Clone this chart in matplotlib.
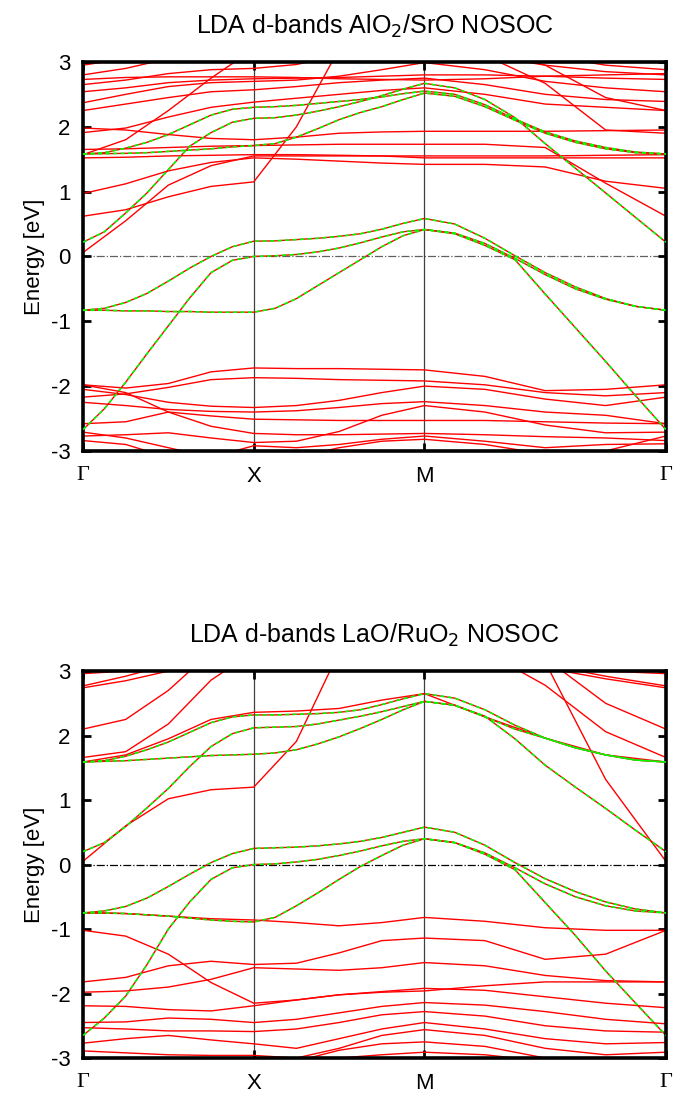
import numpy as np
import matplotlib
matplotlib.use('Agg')
import matplotlib.pyplot as plt

plt.rcParams['font.family'] = ['Liberation Sans', 'DejaVu Sans']

# k path: Gamma-X, X-M, M-Gamma (lengths 1, 1, sqrt2)
# red bands are read at 4 steps per segment, green (d-band) ones at 8 steps
kpath = [0.0, 0.25, 0.5, 0.75, 1.0, 1.25, 1.5, 1.75, 2.0, 2.354, 2.707, 3.061, 3.414]
kfine = [0.0, 0.125, 0.25, 0.375, 0.5, 0.625, 0.75, 0.875,
         1.0, 1.125, 1.25, 1.375, 1.5, 1.625, 1.75, 1.875,
         2.0, 2.177, 2.354, 2.530, 2.707, 2.884, 3.061, 3.237, 3.414]
k_ticks = [0.0, 1.0, 2.0, 3.414]
k_labels = ['\u0393', 'X', 'M', '\u0393']
e_ticks = [-3, -2, -1, 0, 1, 2, 3]

top_title = 'LDA d-bands AlO$_2$/SrO NOSOC'
bot_title = 'LDA d-bands LaO/RuO$_2$ NOSOC'

# ---- top panel: d-band (green) fits
top_green = [
    [-0.83, -0.80, -0.71, -0.57, -0.38, -0.18, 0.00, 0.15, 0.235,
     0.24, 0.26, 0.28, 0.31, 0.35, 0.42, 0.51, 0.585,
     0.50, 0.28, 0.01, -0.25, -0.47, -0.65, -0.77, -0.83],
    [-2.67, -2.35, -1.94, -1.50, -1.07, -0.64, -0.25, -0.06, 0.00,
     0.01, 0.03, 0.07, 0.13, 0.21, 0.30, 0.38, 0.415,
     0.36, 0.20, -0.03, -0.28, -0.50, -0.66, -0.77, -0.83],
    [-0.83, -0.83, -0.84, -0.84, -0.85, -0.85, -0.86, -0.86, -0.86,
     -0.80, -0.65, -0.45, -0.25, -0.05, 0.15, 0.32, 0.415,
     0.35, 0.17, -0.05, -0.58, -1.10, -1.62, -2.15, -2.67],
    [0.22, 0.38, 0.67, 0.98, 1.34, 1.70, 1.91, 2.07, 2.13,
     2.14, 2.18, 2.24, 2.31, 2.39, 2.48, 2.58, 2.67,
     2.60, 2.42, 2.14, 1.74, 1.36, 0.98, 0.60, 0.22],
    [1.58, 1.60, 1.67, 1.76, 1.88, 2.03, 2.18, 2.27, 2.30,
     2.31, 2.33, 2.36, 2.39, 2.42, 2.46, 2.51, 2.55,
     2.50, 2.34, 2.12, 1.92, 1.78, 1.68, 1.61, 1.58],
    [1.58, 1.585, 1.59, 1.60, 1.62, 1.64, 1.66, 1.69, 1.71,
     1.74, 1.84, 1.97, 2.11, 2.22, 2.31, 2.42, 2.52,
     2.47, 2.31, 2.10, 1.90, 1.76, 1.66, 1.60, 1.58],
]
# ---- top panel: full LDA bands (red)
top_red = [
    [0.06, 0.55, 1.10, 1.40, 1.55, 1.55, 1.55, 1.55, 1.55, 1.55, 1.55, 1.56, 1.57],
    [0.97, 1.12, 1.32, 1.45, 1.52, 1.50, 1.47, 1.44, 1.42, 1.42, 1.38, 1.16, 1.05],
    [0.62, 0.72, 0.92, 1.08, 1.15, 2.00, 3.20, 3.60, 3.60, 3.60, 3.60, 3.60, 3.60],
    [1.65, 1.66, 1.68, 1.70, 1.71, 1.72, 1.73, 1.73, 1.73, 1.73, 1.68, 1.13, 0.62],
    [1.57, 1.80, 2.25, 2.75, 3.20, 3.40, 3.40, 3.40, 3.40, 3.40, 3.40, 3.40, 3.40],
    [1.98, 1.95, 1.88, 1.82, 1.80, 1.84, 1.90, 1.92, 1.93, 1.93, 1.93, 1.94, 1.95],
    [1.91, 1.98, 2.15, 2.30, 2.38, 2.44, 2.50, 2.56, 2.60, 2.50, 2.35, 2.30, 2.25],
    [2.25, 2.35, 2.45, 2.54, 2.57, 2.62, 2.68, 2.72, 2.75, 2.65, 2.50, 2.42, 2.39],
    [2.37, 2.50, 2.62, 2.68, 2.70, 2.72, 2.78, 2.88, 2.99, 2.88, 2.70, 2.60, 2.54],
    [2.54, 2.60, 2.68, 2.72, 2.74, 2.75, 2.76, 2.78, 2.80, 2.80, 2.78, 2.75, 2.73],
    [2.65, 2.72, 2.82, 2.88, 2.90, 2.96, 3.10, 3.20, 3.20, 3.10, 2.95, 2.85, 2.80],
    [2.73, 2.76, 2.77, 2.77, 2.77, 2.76, 2.74, 2.73, 2.72, 2.74, 2.78, 2.80, 2.82],
    [2.80, 2.90, 3.05, 3.20, 3.30, 3.30, 3.30, 3.30, 3.30, 3.25, 3.10, 2.95, 2.88],
    [1.52, 1.53, 1.55, 1.56, 1.57, 1.57, 1.56, 1.55, 1.52, 1.52, 1.52, 1.52, 1.52],
    [2.95, 3.05, 3.20, 3.30, 3.30, 3.30, 3.30, 3.30, 3.30, 3.10, 2.67, 1.95, 1.90],
    [3.10, 3.20, 3.30, 3.30, 3.30, 3.30, 3.30, 3.30, 3.30, 3.20, 2.95, 2.45, 2.25],
    [-1.98, -2.03, -1.96, -1.78, -1.72, -1.73, -1.73, -1.74, -1.75, -1.85, -2.07, -2.05, -1.98],
    [-2.17, -2.12, -2.02, -1.90, -1.87, -1.88, -1.90, -1.91, -1.92, -1.98, -2.10, -2.15, -2.10],
    [-2.05, -2.13, -2.25, -2.31, -2.33, -2.30, -2.22, -2.10, -2.00, -2.05, -2.20, -2.30, -2.17],
    [-2.25, -2.30, -2.36, -2.39, -2.40, -2.38, -2.33, -2.27, -2.24, -2.30, -2.40, -2.45, -2.58],
    [-2.58, -2.55, -2.40, -2.46, -2.51, -2.52, -2.53, -2.53, -2.53, -2.53, -2.55, -2.57, -2.58],
    [-1.98, -2.10, -2.40, -2.62, -2.73, -2.75, -2.75, -2.74, -2.73, -2.75, -2.78, -2.80, -2.84],
    [-2.77, -2.75, -2.72, -2.80, -2.87, -2.85, -2.70, -2.45, -2.30, -2.40, -2.60, -2.72, -2.71],
    [-2.84, -2.90, -3.10, -3.10, -2.92, -2.95, -2.90, -2.82, -2.77, -2.85, -2.95, -2.90, -2.89],
    [-2.71, -2.80, -2.95, -3.10, -3.20, -3.10, -2.95, -2.85, -2.82, -2.90, -3.05, -3.00, -2.77],
]

# ---- bottom panel: d-band (green) fits
bot_green = [
    [-0.75, -0.72, -0.65, -0.52, -0.34, -0.15, 0.03, 0.17, 0.25,
     0.26, 0.27, 0.29, 0.32, 0.36, 0.42, 0.50, 0.58,
     0.50, 0.30, 0.03, -0.22, -0.42, -0.58, -0.69, -0.75],
    [-2.65, -2.38, -2.04, -1.55, -1.00, -0.58, -0.23, -0.05, 0.00,
     0.01, 0.04, 0.08, 0.14, 0.21, 0.29, 0.36, 0.40,
     0.34, 0.18, -0.05, -0.30, -0.50, -0.64, -0.72, -0.75],
    [-0.75, -0.75, -0.76, -0.78, -0.80, -0.83, -0.86, -0.88, -0.89,
     -0.82, -0.64, -0.44, -0.23, -0.03, 0.14, 0.30, 0.40,
     0.34, 0.16, -0.08, -0.59, -1.10, -1.65, -2.15, -2.65],
    [0.20, 0.34, 0.59, 0.88, 1.18, 1.52, 1.83, 2.03, 2.12,
     2.13, 2.14, 2.18, 2.24, 2.30, 2.37, 2.45, 2.53,
     2.47, 2.30, 1.95, 1.54, 1.20, 0.87, 0.53, 0.20],
    [1.59, 1.61, 1.68, 1.78, 1.90, 2.05, 2.20, 2.29, 2.32,
     2.32, 2.33, 2.34, 2.36, 2.40, 2.48, 2.57, 2.65,
     2.58, 2.40, 2.16, 1.96, 1.81, 1.70, 1.62, 1.59],
    [1.59, 1.60, 1.61, 1.63, 1.65, 1.67, 1.69, 1.70, 1.71,
     1.73, 1.78, 1.87, 1.98, 2.11, 2.25, 2.40, 2.53,
     2.47, 2.29, 2.10, 1.96, 1.81, 1.70, 1.62, 1.59],
]
# ---- bottom panel: full LDA bands (red)
bot_red = [
    [0.05, 0.60, 1.02, 1.16, 1.20, 1.91, 3.30, 3.60, 3.60, 3.60, 3.14, 1.32, 0.05],
    [1.66, 1.75, 2.18, 2.86, 3.30, 3.50, 3.50, 3.50, 3.50, 3.30, 2.78, 2.06, 1.66],
    [2.10, 2.25, 2.70, 3.30, 3.50, 3.50, 3.50, 3.50, 3.50, 3.50, 3.20, 2.50, 2.10],
    [2.77, 2.92, 3.10, 3.30, 3.40, 3.40, 3.40, 3.40, 3.40, 3.30, 3.10, 2.92, 2.77],
    [2.74, 2.85, 3.00, 3.20, 3.30, 3.30, 3.30, 3.30, 3.30, 3.20, 3.05, 2.88, 2.74],
    [2.96, 3.00, 3.10, 3.20, 3.30, 3.30, 3.30, 3.30, 3.30, 3.20, 3.10, 3.00, 2.96],
    [1.59, 1.70, 1.95, 2.25, 2.36, 2.38, 2.42, 2.55, 2.65, 2.29, 1.96, 1.70, 1.59],
    [-0.75, -0.76, -0.80, -0.84, -0.86, -0.90, -0.95, -0.90, -0.82, -0.88, -0.98, -1.02, -1.02],
    [-1.02, -1.11, -1.39, -1.83, -2.15, -2.10, -2.02, -1.98, -1.96, -1.88, -1.82, -1.82, -1.82],
    [-1.82, -1.75, -1.57, -1.50, -1.55, -1.53, -1.37, -1.18, -1.14, -1.18, -1.47, -1.39, -1.02],
    [-1.98, -1.96, -1.90, -1.78, -1.60, -1.62, -1.64, -1.60, -1.52, -1.57, -1.72, -1.80, -1.82],
    [-2.19, -2.20, -2.25, -2.27, -2.19, -2.10, -2.02, -1.97, -1.92, -1.95, -2.05, -2.15, -2.22],
    [-2.45, -2.44, -2.38, -2.40, -2.45, -2.40, -2.30, -2.20, -2.14, -2.18, -2.28, -2.40, -2.47],
    [-2.53, -2.55, -2.58, -2.58, -2.59, -2.55, -2.45, -2.33, -2.28, -2.35, -2.50, -2.58, -2.60],
    [-2.77, -2.70, -2.65, -2.72, -2.78, -2.85, -2.70, -2.55, -2.45, -2.55, -2.70, -2.78, -2.76],
    [-2.89, -2.92, -2.95, -2.96, -2.96, -3.00, -2.85, -2.65, -2.56, -2.65, -2.85, -2.95, -2.91],
    [-3.10, -3.10, -3.05, -3.10, -3.20, -3.05, -2.88, -2.78, -2.75, -2.82, -3.00, -3.10, -3.10],
    [-3.20, -3.20, -3.20, -3.20, -3.20, -3.10, -3.00, -2.95, -2.91, -2.95, -3.05, -3.20, -3.20],
]

RED = '#ff0000'
GREEN = '#00ff00'


def draw_panel(ax, red, green, title, zero_col):
    for band in red:
        ax.plot(kpath, band, color=RED, lw=1.0, zorder=2)
    for band in green:
        ax.plot(kfine, band, color=RED, lw=1.0, zorder=2)
        ax.plot(kfine, band, color=GREEN, lw=1.2, dashes=(2.5, 2), zorder=3)
    ax.axhline(0, color=zero_col, lw=0.9, ls='-.', zorder=1)
    for kx in k_ticks[1:-1]:
        ax.axvline(kx, color='#404040', lw=0.9, zorder=1)
    ax.set_xlim(k_ticks[0], k_ticks[-1])
    ax.set_ylim(-3, 3)
    ax.set_yticks(e_ticks)
    ax.set_yticklabels([str(t) for t in e_ticks])
    ax.set_xticks(k_ticks)
    ax.set_xticklabels(k_labels)
    for lab in ax.get_xticklabels():
        if lab.get_text() == '\u0393':
            lab.set_fontfamily('Liberation Serif')
            lab.set_fontsize(19)
    ax.tick_params(direction='in', length=6, width=2, labelsize=16,
                   right=True, top=True, pad=9)
    ax.tick_params(axis='x', pad=11)
    for s in ax.spines.values():
        s.set_linewidth(2.6)
    ax.set_ylabel('Energy [eV]', fontsize=16, labelpad=4)
    ax.set_title(title, fontsize=18, pad=20)


fig = plt.figure(figsize=(6.77, 10.94), dpi=100)
ax1 = fig.add_axes([0.1226, 0.5878, 0.861, 0.3556])
ax2 = fig.add_axes([0.1226, 0.0329, 0.861, 0.3537])
draw_panel(ax1, top_red, top_green, top_title, '#606060')
draw_panel(ax2, bot_red, bot_green, bot_title, 'black')

fig.savefig('out.png', dpi=100)
